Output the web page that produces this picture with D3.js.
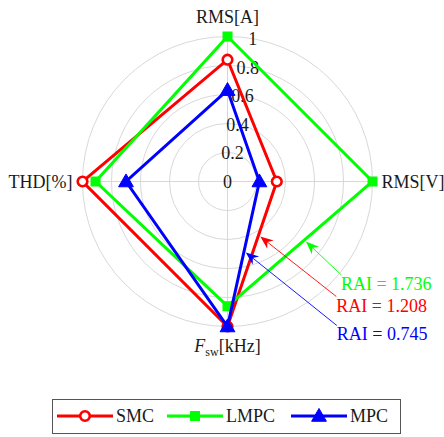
<!DOCTYPE html>
<html>
<head>
<meta charset="utf-8">
<script src="https://cdn.jsdelivr.net/npm/d3@7"></script>
<style>
  html, body { margin: 0; padding: 0; background: #fff; }
  svg { display: block; }
  text { font-family: "Liberation Serif", "Times New Roman", serif; fill: #1a1a1a; }
</style>
</head>
<body>
<svg id="chart" width="444" height="437"></svg>
<script>
// Radar axes, clockwise from the top
const axes = ["RMS[A]", "RMS[V]", "Fsw[kHz]", "THD[%]"];
// Normalised indicator values per controller, in axis order
const smc  = [0.84, 0.34, 1.00, 1.00];
const lmpc = [1.00, 1.00, 0.86, 0.91];
const mpc  = [0.63, 0.22, 1.00, 0.70];
const seriesNames = ["SMC", "LMPC", "MPC"];
const seriesColors = ["#ff0000", "#00ff00", "#0000ff"];
const seriesMarkers = ["circle", "square", "triangle"];
const radialTicks = [0, 0.2, 0.4, 0.6, 0.8, 1];
const raiLabels = ["RAI = 1.208", "RAI = 1.736", "RAI = 0.745"];

const series = [smc, lmpc, mpc].map((v, i) => ({
  name: seriesNames[i], values: v, color: seriesColors[i], marker: seriesMarkers[i], rai: raiLabels[i]
}));

const svg = d3.select("#chart");
const cx = 227.5, cy = 181.5, R = 145;

const r = d3.scaleLinear().domain([0, 1]).range([0, R]);
const angle = d3.scaleLinear().domain([0, axes.length]).range([0, 2 * Math.PI]);
const pt = (i, v) => [r(v) * Math.sin(angle(i)), -r(v) * Math.cos(angle(i))];

const g = svg.append("g").attr("transform", `translate(${cx},${cy})`);

// Grid: concentric rings and the four spokes
g.selectAll("circle.ring").data(radialTicks.filter(t => t > 0)).join("circle")
  .attr("r", d => r(d)).attr("fill", "none")
  .attr("stroke", "#d4d4d4").attr("stroke-width", 0.9);
g.selectAll("line.spoke").data(axes).join("line")
  .attr("x1", 0).attr("y1", 0)
  .attr("x2", (d, i) => pt(i, 1)[0]).attr("y2", (d, i) => pt(i, 1)[1])
  .attr("stroke", "#d4d4d4").attr("stroke-width", 0.9);

// Radial tick labels along a line slightly right of vertical
const tickAngle = 10 * Math.PI / 180;
g.selectAll("text.tick").data(radialTicks).join("text")
  .attr("x", d => r(d) * Math.sin(tickAngle))
  .attr("y", d => -r(d) * Math.cos(tickAngle))
  .attr("text-anchor", "middle").attr("dy", "0.35em")
  .attr("font-size", 18)
  .text(d => d3.format("")(d));

// Axis labels
g.append("text").attr("x", 0).attr("y", -R - 14).attr("text-anchor", "middle")
  .attr("font-size", 18).text(axes[0]);
g.append("text").attr("x", R + 9).attr("y", 6).attr("text-anchor", "start")
  .attr("font-size", 18).text(axes[1]);
g.append("text").attr("x", -R - 10).attr("y", 6).attr("text-anchor", "end")
  .attr("font-size", 18).text(axes[3]);
const fsw = g.append("text").attr("x", 0).attr("y", R + 25).attr("text-anchor", "middle").attr("font-size", 18);
fsw.append("tspan").attr("font-style", "italic").text("F");
fsw.append("tspan").attr("font-size", 12).attr("dy", 4).text("sw");
fsw.append("tspan").attr("dy", -4).text("[kHz]");

// Series polygons
const radial = d3.lineRadial()
  .angle((d, i) => angle(i))
  .radius(d => r(d))
  .curve(d3.curveLinearClosed);

function drawMarker(sel, type, color) {
  if (type === "circle") {
    sel.append("circle").attr("r", 4.8).attr("fill", "#fff")
      .attr("stroke", color).attr("stroke-width", 2.6);
  } else if (type === "square") {
    sel.append("rect").attr("x", -5).attr("y", -5).attr("width", 10).attr("height", 10)
      .attr("fill", color);
  } else {
    sel.append("path").attr("d", d3.symbol().type(d3.symbolTriangle).size(95)())
      .attr("transform", "translate(0,1)")
      .attr("fill", color).attr("stroke", color).attr("stroke-width", 1);
  }
}

series.forEach(s => {
  g.append("path").datum(s.values).attr("d", radial)
    .attr("fill", "none").attr("stroke", s.color)
    .attr("stroke-width", 3).attr("stroke-linejoin", "miter");
  s.values.forEach((v, i) => {
    const [x, y] = pt(i, v);
    drawMarker(g.append("g").attr("transform", `translate(${x},${y})`), s.marker, s.color);
  });
});

// RAI annotations: arrows pointing to the RMS[V]-Fsw edge of each polygon
const arrowT = [0.37, 0.47, 0.48];          // position along the edge
const arrowTail = [[76, 60], [35, 33], [91, 73]]; // tail offset from tip, px
series.forEach((s, k) => {
  const a = pt(1, s.values[1]), b = pt(2, s.values[2]);
  const t = arrowT[k];
  let tip = [a[0] + (b[0] - a[0]) * t, a[1] + (b[1] - a[1]) * t];
  const [dx, dy] = arrowTail[k];
  const len = Math.hypot(dx, dy);
  const ux = dx / len, uy = dy / len;
  tip = [tip[0] + ux * 2.2, tip[1] + uy * 2.2];
  const tail = [tip[0] + dx, tip[1] + dy];
  g.append("line")
    .attr("x1", tail[0]).attr("y1", tail[1])
    .attr("x2", tip[0] + ux * 8).attr("y2", tip[1] + uy * 8)
    .attr("stroke", s.color).attr("stroke-width", 0.9);
  const ang = Math.atan2(-dy, -dx) * 180 / Math.PI;
  g.append("path")
    .attr("d", "M0,0 L-13,-5.2 L-9,0 L-13,5.2 Z")
    .attr("transform", `translate(${tip[0]},${tip[1]}) rotate(${ang})`)
    .attr("fill", s.color);
  g.append("text").attr("x", tail[0]).attr("y", tail[1] + 15)
    .attr("font-size", 18).style("fill", s.color).text(s.rai);
});

// Legend
const leg = svg.append("g").attr("transform", "translate(52,399)");
leg.append("rect").attr("x", 0.5).attr("y", 0.5).attr("width", 348).attr("height", 34)
  .attr("fill", "#fff").attr("stroke", "#555").attr("stroke-width", 1);
const legX = [5, 115, 239];
series.forEach((s, k) => {
  const lg = leg.append("g").attr("transform", `translate(${legX[k]},17)`);
  lg.append("line").attr("x1", 0).attr("x2", 56).attr("y1", 0).attr("y2", 0)
    .attr("stroke", s.color).attr("stroke-width", 3);
  drawMarker(lg.append("g").attr("transform", "translate(28,0)"), s.marker, s.color);
  lg.append("text").attr("x", 59).attr("y", 6).attr("font-size", 18).text(s.name);
});
</script>
</body>
</html>
